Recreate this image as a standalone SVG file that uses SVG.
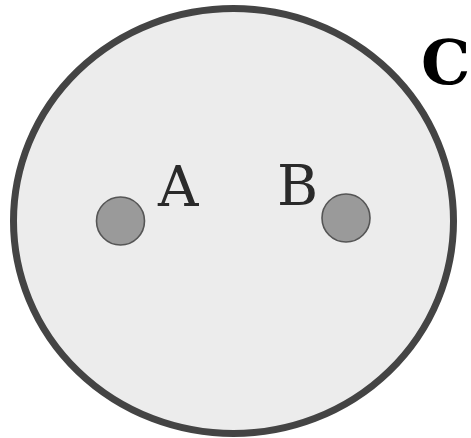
<svg xmlns="http://www.w3.org/2000/svg" width="471" height="438" viewBox="0 0 471 438">
<style>
.lbl{font-family:"DejaVu Serif",serif;fill:#2a2a2a;font-size:56px}
.big{font-family:"DejaVu Serif",serif;font-weight:bold;font-size:62px;fill:#000}
.dot{fill:#9a9a9a;stroke:#555;stroke-width:1.6}
</style>
<rect width="471" height="438" fill="#fff"/>
<g id="C">
<ellipse cx="233.5" cy="221" rx="220" ry="212.5" fill="#ececec" stroke="#444" stroke-width="7"/>
<text class="big" x="421" y="84">C</text>
</g>
<g id="A">
<circle class="dot" cx="120.5" cy="221" r="24"/>
<text class="lbl" x="158" y="206">A</text>
</g>
<g id="B">
<circle class="dot" cx="346" cy="218" r="24"/>
<text class="lbl" x="277" y="205">B</text>
</g>
<g id="connectors"/>
</svg>
